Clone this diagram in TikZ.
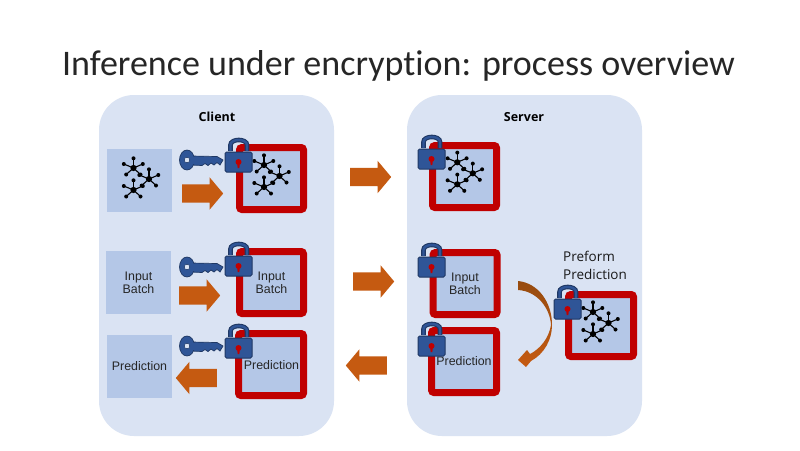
\documentclass[tikz,border=0pt]{standalone}
\usepackage{fontspec}
\setmainfont[Ligatures=NoCommon]{Carlito}
\newfontfamily\labelfont{Liberation Sans}
\newfontfamily\headfont{Open Sans}
\usetikzlibrary{shapes.arrows}
\definecolor{panelblue}{HTML}{DAE3F3}
\definecolor{boxblue}{HTML}{B4C7E7}
\definecolor{lockred}{HTML}{C00000}
\definecolor{arroworange}{HTML}{C55A11}
\definecolor{arrowbrown}{HTML}{964B0F}
\definecolor{keyblue}{HTML}{2F5597}
\definecolor{keydark}{HTML}{1F3864}
\tikzset{
  panel/.style={fill=panelblue,rounded corners=35pt,minimum width=235pt,minimum height=341pt,inner sep=0pt},
  plainbox/.style={fill=boxblue,minimum width=65pt,minimum height=63pt,inner sep=0pt,align=center,font=\labelfont\fontsize{12.4}{13}\selectfont,text=black!85},
  lockedbox/.style={draw=lockred,line width=7pt,fill=boxblue,rounded corners=2.5pt,minimum width=64pt,minimum height=62pt,inner sep=0pt,align=center,font=\labelfont\fontsize{12.4}{13}\selectfont,text=black!85},
  blockarrow/.style={single arrow,fill=arroworange,anchor=tail,minimum height=41pt,inner ysep=9pt,inner xsep=0pt,single arrow head extend=7pt,single arrow tip angle=100},
  blockleft/.style={blockarrow,shape border rotate=180},
  padlock/.pic={
    \draw[keydark,line width=4.6pt] (5.5,-1)--(5.5,-7)..controls (5.5,-13.7) and (22,-13.7)..(22,-7)--(22,-1);
    \draw[keyblue,line width=2.4pt] (5.5,-1)--(5.5,-7)..controls (5.5,-13.7) and (22,-13.7)..(22,-7)--(22,-1);
    \filldraw[fill=keyblue,draw=keydark,line width=1pt,rounded corners=1.5pt] (0,0)--(27,0)--(27,20)--(0,20)--cycle;
    \fill[lockred] (13.5,10) circle (3pt);
    \fill[lockred] (12.2,10)--(14.8,10)--(14.4,16)--(12.6,16)--cycle;
  },
  keyglyph/.pic={
    \filldraw[fill=keyblue,draw=keydark,line width=0.7pt] (4,-4)--(30,-3.5)--(36,0)--(33,5)--(30,2.5)--(27,5)--(24,3)--(21,5.5)--(18,3.5)--(15,5.5)--(4,5)--cycle;
    \filldraw[fill=keyblue,draw=keydark,line width=0.7pt] (0,0) ellipse [x radius=7.5pt,y radius=10pt];
    \fill[keyblue] (3,-3.4)--(8,-3.4)--(8,4.4)--(3,4.4)--cycle;
    \filldraw[fill=panelblue,draw=keydark,line width=0.5pt] (0,0) circle (2.8pt);
  },
  star/.pic={
    \foreach \dx/\dy in {0/-9.7,-9.7/-4,9.3/-4,-7.3/6.5,7/6.5}{
      \draw[black,line width=1.1pt] (0,0)--(\dx,\dy);
      \fill[black] (\dx,\dy) circle (2pt);
    }
    \fill[black] (0,0) circle (3.1pt);
  },
  netglyph/.pic={
    \pic at (-1.5,-11) {star};
    \pic at (14,0) {star};
    \pic at (-1.5,11) {star};
  },
}
\begin{document}
\begin{tikzpicture}[x=1pt,y=-1pt]
\useasboundingbox (0,0) rectangle (800,450);
\fill[white] (0,0) rectangle (800,450);
\node[text=black!85] (title) at (398.5,66) {\fontsize{36}{40}\selectfont Inference under encryption: process overview};

\node[panel] (client) at (216.5,265.5) {};
\node[panel] (server) at (524.5,265.5) {};
\node (clientlabel) at (217,117) {\headfont\fontsize{12.5}{14}\selectfont\bfseries Client};
\node (serverlabel) at (524,117) {\headfont\fontsize{12.5}{14}\selectfont\bfseries Server};

\node[plainbox] (modelplain) at (139.5,180) {};
\node[plainbox] (inputplain) at (138.5,282.5) {Input\\Batch};
\node[plainbox] (predplain) at (139.5,366) {Prediction};

\node[lockedbox] (modelc) at (271.5,178.5) {};
\node[lockedbox] (inputc) at (271.5,282.5) {Input\\Batch};
\node[lockedbox,minimum width=65pt] (predc) at (271,364.5) {};
\node[font=\labelfont\fontsize{12.4}{13}\selectfont,text=black!85] (predctext) at (271.5,365) {Prediction};

\node[lockedbox] (models) at (464.5,176.5) {};
\node[lockedbox] (inputs) at (465,283.5) {Input\\Batch};
\node[lockedbox,minimum width=65pt] (preds) at (464,361.5) {};
\node[font=\labelfont\fontsize{12.4}{13}\selectfont,text=black!85] (predstext) at (464,361.5) {Prediction};
\node[lockedbox,minimum width=65pt] (modelp) at (601,325.5) {};

\pic at (135,179) {netglyph};
\pic at (265.5,176) {netglyph};
\pic at (458.8,173.3) {netglyph};
\pic at (594.5,323) {netglyph};

\pic at (187,160) {keyglyph};
\pic at (187,267) {keyglyph};
\pic at (187,346) {keyglyph};

\pic at (225,152) {padlock};
\pic at (225,256) {padlock};
\pic at (225,338) {padlock};
\pic at (418,149) {padlock};
\pic at (418,257) {padlock};
\pic at (418,336) {padlock};
\pic at (554,299) {padlock};

\node[blockarrow] (encmodel) at (182,193.5) {};
\node[blockarrow] (encinput) at (179,295.5) {};
\node[blockleft] (decpred) at (217,378) {};
\node[blockarrow] (sendmodel) at (350,177) {};
\node[blockarrow] (sendinput) at (353,281.5) {};
\node[blockleft] (sendpred) at (387,365.5) {};

\node[anchor=west,align=left,inner sep=0pt,font=\headfont\fontsize{13.5}{18}\selectfont,text=black!90] (preform) at (563,265) {Preform\\Prediction};

\shade[top color=arrowbrown,bottom color=arroworange] (518,281)..controls (538,283) and (552,302)..(552,325)
  ..controls (552,340) and (544,354)..(531,361)--(526,367)--(518,360)--(527,350)--(530,354)
  ..controls (540,349) and (549,338)..(551,325)..controls (550,308) and (537,291)..(518,290)--cycle;
\end{tikzpicture}
\end{document}
